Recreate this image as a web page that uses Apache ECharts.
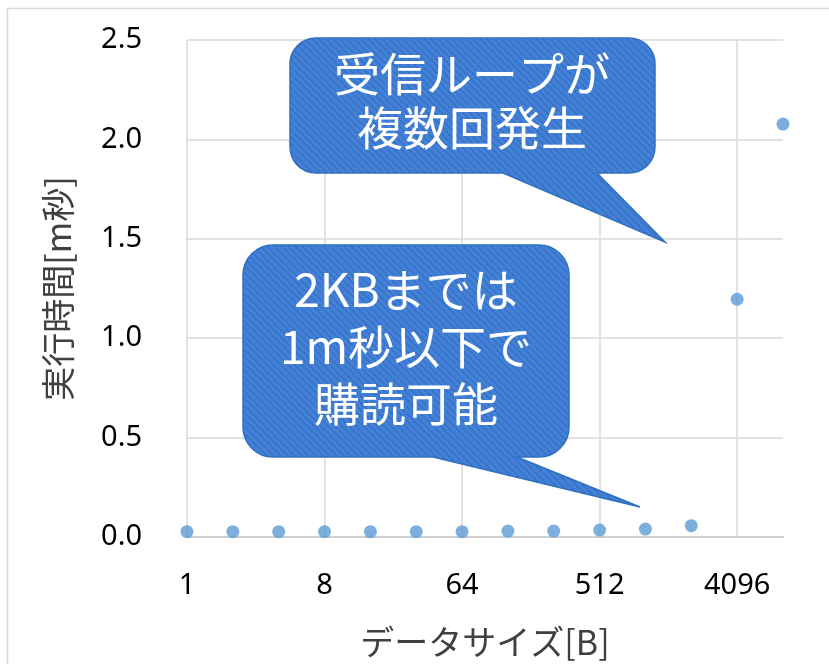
<!DOCTYPE html>
<html>
<head>
<meta charset="utf-8">
<script src="https://cdn.jsdelivr.net/npm/echarts@6/dist/echarts.min.js"></script>
<style>
  html, body { margin: 0; padding: 0; background: #fff; }
  #main { width: 829px; height: 664px; }
</style>
</head>
<body>
<div id="main"></div>
<script>
// data size [B] and execution time [ms]
const sizes = [1, 2, 4, 8, 16, 32, 64, 128, 256, 512, 1024, 2048, 4096, 8192];
const times = [0.027, 0.027, 0.027, 0.027, 0.027, 0.027, 0.027, 0.03, 0.03, 0.035, 0.04, 0.057, 1.196, 2.077];
const xTickLabels = ['1', '8', '64', '512', '4096'];
const yTicks = [0, 0.5, 1.0, 1.5, 2.0, 2.5];
const note1 = ['受信ループが', '複数回発生'];
const note2 = ['2KBまでは', '1m秒以下で', '購読可能'];

// callout outlines (rounded box + pointer)
echarts.graphic.registerShape('callout1', echarts.graphic.extendPath(
  'M 316 38 L 629 38 A 26 26 0 0 1 655 64 L 655 147 A 26 26 0 0 1 629 173 ' +
  'L 597 173 L 665 242 L 503 173 L 316 173 A 26 26 0 0 1 290 147 L 290 64 A 26 26 0 0 1 316 38 Z'
));
echarts.graphic.registerShape('callout2', echarts.graphic.extendPath(
  'M 273 245 L 539 245 A 30 30 0 0 1 569 275 L 569 427 A 30 30 0 0 1 539 457 ' +
  'L 517 457 L 640 507 L 433 457 L 273 457 A 30 30 0 0 1 243 427 L 243 275 A 30 30 0 0 1 273 245 Z'
));

const chart = echarts.init(document.getElementById('main'));

// striped fill for the callouts
function stripes() {
  const c = document.createElement('canvas');
  c.width = 7; c.height = 7;
  const g = c.getContext('2d');
  g.fillStyle = '#4381d6';
  g.fillRect(0, 0, 7, 7);
  g.strokeStyle = '#3570c6';
  g.lineWidth = 1.4;
  for (let k = -7; k <= 7; k += 7) {
    g.beginPath();
    g.moveTo(k, 0);
    g.lineTo(k + 7, 7);
    g.stroke();
  }
  return { type: 'pattern', image: c, repeat: 'repeat' };
}
const fillPat = stripes();

const labelFont = '"Noto Sans", "Noto Sans CJK JP", sans-serif';
const jpFont = '"Noto Sans CJK JP", sans-serif';

const option = {
  backgroundColor: '#fff',
  animation: false,
  grid: { left: 187, right: 46, top: 40, bottom: 127 },
  xAxis: {
    type: 'value',
    min: 0,
    max: 13,
    interval: 3,
    name: 'データサイズ[B]',
    nameLocation: 'middle',
    nameGap: 88,
    nameTextStyle: { fontFamily: jpFont, fontSize: 34, color: '#404040' },
    axisLine: { show: true, lineStyle: { color: '#d0d0d0', width: 2 } },
    axisTick: { show: false },
    axisLabel: {
      margin: 34,
      fontFamily: labelFont,
      fontSize: 29,
      color: '#000',
      showMaxLabel: false,
      formatter: function (v) {
        const i = Math.round(v / 3);
        return (v % 3 === 0 && xTickLabels[i]) ? xTickLabels[i] : '';
      }
    },
    splitLine: { show: true, showMaxLine: false, lineStyle: { color: '#d9d9d9', width: 1.5 } }
  },
  yAxis: {
    type: 'value',
    min: yTicks[0],
    max: yTicks[yTicks.length - 1],
    interval: 0.5,
    name: '実行時間[m秒]',
    nameLocation: 'middle',
    nameGap: 112,
    nameTextStyle: { fontFamily: jpFont, fontSize: 34, color: '#404040' },
    axisLine: { show: false },
    axisTick: { show: false },
    axisLabel: {
      margin: 45,
      fontFamily: labelFont,
      fontSize: 29,
      color: '#000',
      formatter: function (v) { return v.toFixed(1); }
    },
    splitLine: { show: true, lineStyle: { color: '#d9d9d9', width: 1.5 } }
  },
  series: [{
    type: 'scatter',
    symbol: 'circle',
    symbolSize: 13,
    itemStyle: { color: '#5b9bd5' },
    data: sizes.map(function (s, i) { return [Math.log2(s), times[i]]; })
  }],
  graphic: [
    {
      type: 'rect',
      silent: true,
      shape: { x: 7.5, y: 8.5, width: 900, height: 700 },
      style: { fill: 'none', stroke: '#d9d9d9', lineWidth: 1.5 }
    },
    {
      type: 'callout1',
      z: 10,
      style: { fill: fillPat, stroke: '#2f70c0', lineWidth: 1.5 }
    },
    {
      type: 'text',
      z: 11,
      x: 472,
      y: 101,
      style: {
        text: note1.join('\n'),
        fill: '#fff',
        font: '46px ' + jpFont,
        lineHeight: 54,
        align: 'center',
        verticalAlign: 'middle'
      }
    },
    {
      type: 'callout2',
      z: 10,
      style: { fill: fillPat, stroke: '#2f70c0', lineWidth: 1.5 }
    },
    {
      type: 'text',
      z: 11,
      x: 406,
      y: 347,
      style: {
        text: note2.join('\n'),
        fill: '#fff',
        font: '46px ' + jpFont,
        lineHeight: 57,
        align: 'center',
        verticalAlign: 'middle'
      }
    }
  ]
};

chart.setOption(option);
</script>
</body>
</html>
